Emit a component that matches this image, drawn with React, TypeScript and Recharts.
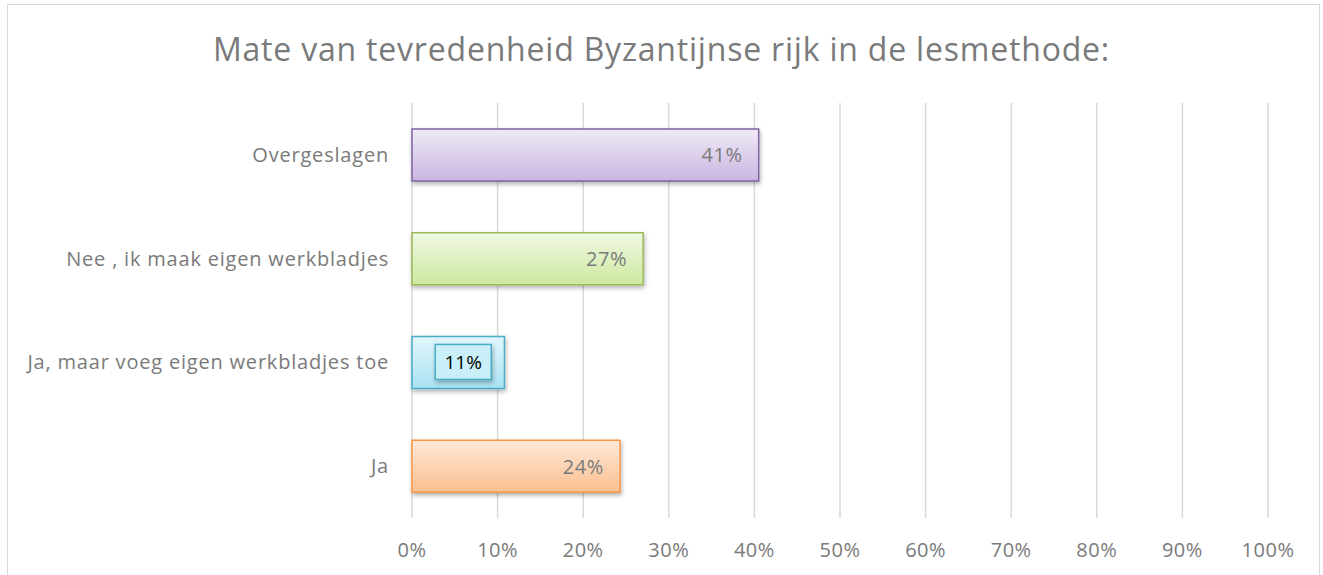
import React from "react";
import { BarChart, Bar, XAxis, YAxis, CartesianGrid, Cell, LabelList } from "recharts";

const categories = [
  "Overgeslagen",
  "Nee , ik maak eigen werkbladjes",
  "Ja, maar voeg eigen werkbladjes toe",
  "Ja",
];
const shares = [40.5, 27.0, 10.8, 24.3];
const xTicks = [0, 10, 20, 30, 40, 50, 60, 70, 80, 90, 100];
const boxedLabel = "Ja, maar voeg eigen werkbladjes toe";

const palette = [
  { top: "#f0eaf7", bottom: "#c9b6e1", stroke: "#8064a2" },
  { top: "#f0f8e2", bottom: "#cde8a0", stroke: "#9bbb59" },
  { top: "#e2f6fb", bottom: "#a9e2f2", stroke: "#4bacc6" },
  { top: "#fee9d9", bottom: "#fbbf8f", stroke: "#f79646" },
];

const data = categories.map((name, i) => ({ name, value: shares[i] }));

const FONT = "'Open Sans', sans-serif";
const TEXT = "#7a7a7a";

function ValueLabel(props: any) {
  const { x, y, width, height, value, index } = props;
  const txt = `${Math.round(value)}%`;
  const cy = y + height / 2;
  if (data[index].name === boxedLabel) {
    const cx = x + width / 2 + 5;
    return (
      <g>
        <rect x={cx - 28} y={cy - 18} width={56} height={35} fill="#c9eff9" stroke="#4bacc6" strokeWidth={1.5} filter="url(#barShadow)" />
        <text x={cx} y={cy} textAnchor="middle" dominantBaseline="central" fontFamily={FONT} fontSize={19} fill="#000">
          {txt}
        </text>
      </g>
    );
  }
  return (
    <text
      x={x + width - 16}
      y={cy}
      textAnchor="end"
      dominantBaseline="central"
      fontFamily={FONT}
      fontSize={20}
      letterSpacing={0.6}
      fill={TEXT}
    >
      {txt}
    </text>
  );
}

export default function App() {
  return (
    <div style={{ position: "fixed", left: 0, top: 0, width: 1323, height: 575, background: "#fff", overflow: "hidden" }}>
      <div style={{ position: "absolute", left: 7, top: 4, width: 1313, height: 620, border: "1px solid #d9d9d9", boxSizing: "border-box" }} />
      <div
        style={{
          position: "absolute",
          left: 0,
          top: 27,
          width: 1323,
          textAlign: "center",
          fontFamily: FONT,
          fontSize: 32,
          letterSpacing: 0.8,
          color: TEXT,
          whiteSpace: "nowrap",
        }}
      >
        Mate van tevredenheid Byzantijnse rijk in de lesmethode:
      </div>
      <div style={{ position: "absolute", left: 0, top: 0 }}>
        <BarChart
          width={1323}
          height={575}
          data={data}
          layout="vertical"
          barCategoryGap="25%"
          margin={{ top: 103, right: 55, bottom: 0, left: 0 }}
        >
          <defs>
            {palette.map((p, i) => (
              <linearGradient key={i} id={`grad${i}`} x1="0" y1="0" x2="0" y2="1">
                <stop offset="0%" stopColor={p.top} />
                <stop offset="100%" stopColor={p.bottom} />
              </linearGradient>
            ))}
            <filter id="barShadow" x="-10%" y="-20%" width="120%" height="160%">
              <feDropShadow dx="1" dy="2.5" stdDeviation="2" floodColor="#000" floodOpacity="0.3" />
            </filter>
          </defs>
          <CartesianGrid horizontal={false} stroke="#d9d9d9" strokeWidth={1.5} />
          <XAxis
            type="number"
            domain={[0, 100]}
            ticks={xTicks}
            tickFormatter={(v) => `${v}%`}
            axisLine={false}
            tickLine={false}
            tickSize={0}
            tickMargin={25}
            height={57}
            interval={0}
            tick={{ fontFamily: FONT, fontSize: 20, fill: TEXT, letterSpacing: 0.5 }}
          />
          <YAxis
            type="category"
            dataKey="name"
            width={412}
            axisLine={false}
            tickLine={false}
            tickSize={0}
            tickMargin={23}
            tick={{ fontFamily: FONT, fontSize: 20, fill: TEXT, letterSpacing: 0.8 }}
          />
          <Bar dataKey="value" isAnimationActive={false} filter="url(#barShadow)" strokeWidth={1.5}>
            {data.map((d, i) => (
              <Cell key={d.name} fill={`url(#grad${i})`} stroke={palette[i].stroke} />
            ))}
            <LabelList dataKey="value" content={ValueLabel} />
          </Bar>
        </BarChart>
      </div>
    </div>
  );
}
